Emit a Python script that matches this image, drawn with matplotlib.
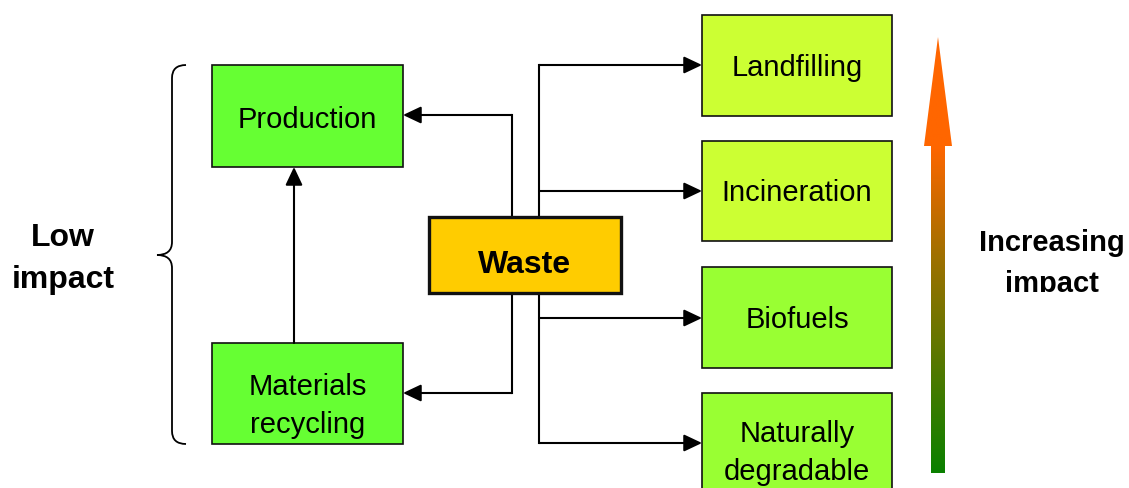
import matplotlib
matplotlib.use("Agg")
import matplotlib.pyplot as plt
import numpy as np
from matplotlib.patches import Rectangle, Polygon, PathPatch
from matplotlib.path import Path
from matplotlib.colors import LinearSegmentedColormap

plt.rcParams['font.family'] = ['Liberation Sans', 'DejaVu Sans']

# ---- content ----
left_labels = [["Production"], ["Materials", "recycling"]]
right_labels = [["Landfilling"], ["Incineration"], ["Biofuels"], ["Naturally", "degradable"]]
center_label = "Waste"
left_note = ["Low", "impact"]
right_note = ["Increasing", "impact"]

# ---- layout (pixels, y downward) ----
W, H = 1129, 488
left_boxes = [(212, 65, 403, 167), (212, 343, 403, 444)]
left_colors = ["#66FF33", "#66FF33"]
left_baselines = [[128], [395, 433]]
right_boxes = [(702, 15, 892, 116), (702, 141, 892, 241), (702, 267, 892, 368), (702, 393, 892, 500)]
right_colors = ["#CCFF33", "#CCFF33", "#99FF33", "#99FF33"]
right_baselines = [[76], [201], [328], [442, 480]]
waste_box = (429, 217, 621, 293)

fig = plt.figure(figsize=(W / 100, H / 100), dpi=100)
ax = fig.add_axes([0, 0, 1, 1])
ax.set_xlim(0, W)
ax.set_ylim(H, 0)
ax.axis('off')

FS = 21
LW = 1.5

def box(b, color, lw=1.2):
    x0, y0, x1, y1 = b
    ax.add_patch(Rectangle((x0, y0), x1 - x0, y1 - y0, facecolor=color,
                           edgecolor='#111111', lw=lw, zorder=2))

for b, c, labs, bls in zip(left_boxes, left_colors, left_labels, left_baselines):
    box(b, c)
    for t, y in zip(labs, bls):
        ax.text((b[0] + b[2]) / 2, y, t, ha='center', va='baseline', fontsize=FS, zorder=3)

for b, c, labs, bls in zip(right_boxes, right_colors, right_labels, right_baselines):
    box(b, c)
    for t, y in zip(labs, bls):
        ax.text((b[0] + b[2]) / 2, y, t, ha='center', va='baseline', fontsize=FS, zorder=3)

box(waste_box, "#FFCC00", lw=2.4)
ax.text((waste_box[0] + waste_box[2]) / 2, 273, center_label, ha='center', va='baseline',
        fontsize=23, fontweight='bold', zorder=3)

def arrow(x0, y0, x1, y1):
    ax.annotate('', xy=(x1, y1), xytext=(x0, y0),
                arrowprops=dict(arrowstyle='-|>,head_length=0.55,head_width=0.26',
                                mutation_scale=20, lw=LW, color='black',
                                shrinkA=0, shrinkB=0), zorder=4)

def line(xs, ys):
    ax.plot(xs, ys, color='black', lw=LW, solid_capstyle='projecting', zorder=1)

# left trunk
line([512, 512], [217, 115])
arrow(512, 115, 403, 115)
line([512, 512], [293, 393])
arrow(512, 393, 403, 393)
# recycling -> production
arrow(294, 343, 294, 167)
# right trunk
line([539, 539], [65, 217])
line([539, 539], [293, 443])
for yb in [65, 191, 318, 443]:
    arrow(539, yb, 702, yb)

# curly brace
xt, xm, xe = 157, 172, 186
yt, ymid, yb = 65, 255, 444
r = 13
verts = [(xe, yt), (xm, yt), (xm, yt + r),
         (xm, ymid - r), (xm, ymid), (xt, ymid),
         (xm, ymid), (xm, ymid + r),
         (xm, yb - r), (xm, yb), (xe, yb)]
codes = [Path.MOVETO, Path.CURVE3, Path.CURVE3,
         Path.LINETO, Path.CURVE3, Path.CURVE3,
         Path.CURVE3, Path.CURVE3,
         Path.LINETO, Path.CURVE3, Path.CURVE3]
ax.add_patch(PathPatch(Path(verts, codes), facecolor='none', edgecolor='black', lw=1.3))

# Low impact
ax.text(63, 246, left_note[0], ha='center', va='baseline', fontsize=23, fontweight='bold')
ax.text(63, 288, left_note[1], ha='center', va='baseline', fontsize=23, fontweight='bold')

# gradient arrow
poly = [(931, 473), (945, 473), (945, 146), (952, 146), (938, 37), (924, 146), (931, 146)]
cmap = LinearSegmentedColormap.from_list('g', [(0, '#0A8000'), (0.5, '#A07000'),
                                               (0.75, '#FF6600'), (1, '#FF6600')])
grad = np.linspace(0, 1, 256).reshape(-1, 1)
im = ax.imshow(grad, cmap=cmap, extent=[920, 956, 473, 37], origin='lower',
               aspect='auto', zorder=2, interpolation='bilinear')
pp = Polygon(poly, closed=True, facecolor='none', edgecolor='none', transform=ax.transData)
ax.add_patch(pp)
im.set_clip_path(pp)
ax.set_xlim(0, W)
ax.set_ylim(H, 0)

# Increasing impact (clipped at the bottom)
clip = Rectangle((960, 200), 169, 92, transform=ax.transData, facecolor='none', edgecolor='none')
ax.add_patch(clip)
for t, y in zip(right_note, [251, 292]):
    tx = ax.text(1052, y, t, ha='center', va='baseline', fontsize=21, fontweight='bold')
    tx.set_clip_on(True)
    tx.set_clip_path(clip)

fig.savefig("out.png", dpi=100)
